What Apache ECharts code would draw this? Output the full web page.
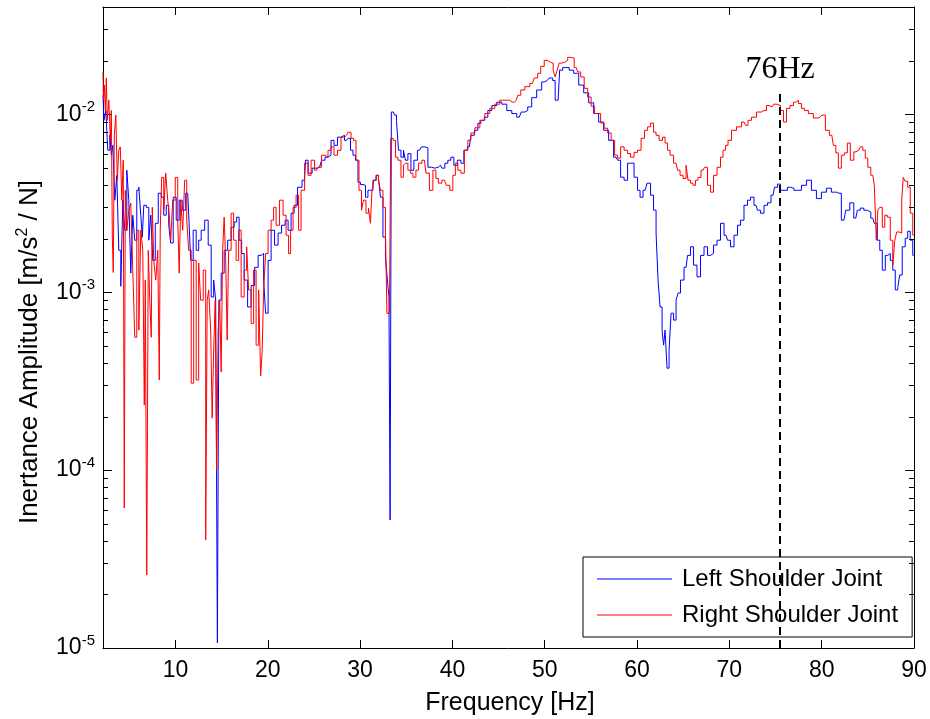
<!DOCTYPE html>
<html><head><meta charset="utf-8">
<script src="https://cdn.jsdelivr.net/npm/echarts@6/dist/echarts.min.js"></script>
<style>html,body{margin:0;padding:0;background:#fff}#c{width:930px;height:719px}</style>
</head><body><div id="c"></div>
<script>
// [frequency Hz, inertance m/s^2/N]
const leftShoulder = [
[2.15,0.0128],[2.35,0.00925],[2.56,0.0105],[2.78,0.00628],[3.00,0.00762],[3.11,0.00589],[3.32,0.00669],[3.54,0.00329],[3.75,0.00454],[3.97,0.00172],
[4.19,0.00108],[4.40,0.00329],[4.62,0.00223],[4.84,0.00485],[5.05,0.00329],[5.27,0.00128],[5.48,0.00271],[5.70,0.00196],[5.92,0.00374],[6.14,0.00389],
[6.35,0.00271],[6.46,0.00204],[6.68,0.00308],[7.00,0.00300],[7.22,0.00196],[7.43,0.00271],[7.65,0.00151],[7.97,0.00244],[8.30,0.00360],[8.62,0.00342],
[8.84,0.00271],[9.16,0.00308],[9.38,0.00238],[9.59,0.00189],[9.92,0.00342],[10.24,0.00254],[10.57,0.00329],[10.89,0.00289],[11.33,0.00360],[11.54,0.00271],
[11.76,0.00151],[12.08,0.00223],[12.41,0.00172],[12.62,0.00196],[12.95,0.00223],[13.38,0.00254],[13.71,0.00184],[14.03,0.00094],[14.25,0.00117],[14.46,0.000902],
[14.62,0.0000107],[14.79,0.000902],[15.11,0.00128],[15.44,0.00172],[15.87,0.00196],[16.19,0.00232],[16.52,0.00248],[16.73,0.00264],[17.06,0.00196],[17.28,0.00165],
[17.60,0.00117],[18.03,0.000826],[18.36,0.00109],[18.79,0.00138],[19.12,0.00161],[19.44,0.00165],[19.66,0.00117],[19.87,0.000762],[20.20,0.00151],[20.52,0.00223],
[20.95,0.00184],[21.28,0.00215],[21.71,0.00238],[22.04,0.00254],[22.36,0.00223],[22.69,0.00278],[23.01,0.00308],[23.44,0.00389],[23.98,0.00426],[24.20,0.00552],
[24.53,0.00467],[25.07,0.00498],[25.61,0.00504],[26.04,0.00552],[26.36,0.00574],[26.69,0.00589],[27.01,0.00714],[27.34,0.00669],[27.77,0.00744],[28.09,0.00762],
[28.53,0.00714],[28.85,0.00733],[29.07,0.00628],[29.39,0.00589],[29.61,0.00552],[29.93,0.00415],[30.15,0.00403],[30.47,0.00399],[30.69,0.00342],[31.01,0.00374],
[31.23,0.00374],[31.56,0.00426],[31.88,0.00454],[32.10,0.00436],[32.31,0.00342],[32.64,0.00204],[32.85,0.00158],[33.07,0.00117],[33.18,0.00094],[33.32,0.0000524],
[33.45,0.0103],[33.61,0.0103],[33.83,0.0099],[34.05,0.00925],[34.26,0.00628],[34.59,0.00574],[34.80,0.00628],[35.02,0.00552],[35.34,0.00601],[35.67,0.00485],
[35.99,0.00552],[36.43,0.00628],[36.86,0.00656],[37.18,0.00648],[37.51,0.00504],[37.94,0.00498],[38.26,0.00504],[38.70,0.00517],[39.02,0.00498],[39.34,0.00531],
[39.67,0.00552],[39.99,0.00574],[40.32,0.00517],[40.75,0.00552],[41.08,0.00531],[41.40,0.00628],[41.84,0.00656],[42.16,0.00762],[42.59,0.00813],[42.92,0.0089],
[43.24,0.00925],[43.67,0.00963],[44.00,0.0105],[44.54,0.0112],[45.08,0.0117],[45.62,0.0114],[46.16,0.0105],[46.70,0.0101],[47.24,0.00963],[47.67,0.0103],
[48.00,0.0105],[48.32,0.0110],[48.86,0.0124],[49.40,0.0137],[49.94,0.0152],[50.27,0.0155],[50.70,0.0160],[51.02,0.0155],[51.24,0.0120],[51.45,0.0120],
[51.78,0.0177],[52.11,0.0183],[52.43,0.0183],[52.86,0.0177],[53.41,0.0170],[53.95,0.0146],[54.49,0.0132],[55.03,0.0116],[55.57,0.0101],[56.11,0.00905],
[56.65,0.00813],[57.19,0.00714],[57.73,0.00574],[58.06,0.00552],[58.38,0.00443],[58.81,0.00426],[59.14,0.00531],[59.46,0.00531],[59.89,0.00443],[60.22,0.00374],
[60.43,0.00342],[60.87,0.00374],[61.30,0.0041],[61.63,0.00351],[61.95,0.00289],[62.17,0.00215],[62.38,0.00117],[62.60,0.000826],[62.82,0.000612],[62.93,0.000504],
[63.14,0.000612],[63.36,0.000374],[63.58,0.000473],[63.79,0.000762],[64.12,0.000697],[64.33,0.000902],[64.55,0.00099],[64.87,0.00117],[65.31,0.00138],[65.63,0.00161],
[65.96,0.0018],[66.28,0.00142],[66.71,0.00122],[67.04,0.00161],[67.47,0.0018],[67.80,0.00161],[68.12,0.00165],[68.45,0.00184],[68.88,0.00196],[69.20,0.00244],
[69.64,0.00209],[69.96,0.00196],[70.29,0.0018],[70.72,0.00209],[71.05,0.00238],[71.37,0.00254],[71.80,0.00308],[72.13,0.00329],[72.45,0.00342],[72.89,0.00308],
[73.21,0.00289],[73.54,0.00278],[73.97,0.00308],[74.29,0.00318],[74.73,0.00351],[75.05,0.00389],[75.37,0.00405],[75.70,0.00374],[76.13,0.00374],[76.45,0.00389],
[76.78,0.00384],[77.21,0.00374],[77.53,0.00374],[78.08,0.00399],[78.62,0.00426],[79.16,0.00374],[79.70,0.00336],[80.24,0.00365],[80.78,0.00384],[81.32,0.00365],
[81.86,0.0036],[82.40,0.00254],[82.83,0.00289],[83.26,0.00318],[83.70,0.00261],[84.02,0.00289],[84.35,0.00297],[84.78,0.00289],[85.10,0.00282],[85.54,0.00261],
[85.86,0.00244],[86.19,0.00196],[86.40,0.00172],[86.73,0.00133],[87.05,0.00161],[87.27,0.00165],[87.59,0.00151],[87.81,0.00133],[88.13,0.00103],[88.35,0.00106],
[88.56,0.00125],[88.89,0.0018],[89.21,0.00201],[89.43,0.0022],[89.76,0.00196],[89.97,0.00161]
];
const rightShoulder = [
[2.15,0.0173],[2.24,0.0120],[2.35,0.0146],[2.46,0.0105],[2.56,0.0160],[2.67,0.00925],[2.89,0.0120],[3.00,0.00714],[3.11,0.0105],[3.21,0.00204],
[3.32,0.00129],[3.43,0.00762],[3.65,0.0099],[3.75,0.00426],[3.97,0.00628],[4.08,0.00656],[4.29,0.00329],[4.40,0.00552],[4.51,0.0000612],[4.62,0.00374],
[4.84,0.00223],[5.05,0.00289],[5.27,0.00316],[5.48,0.00133],[5.70,0.000558],[5.92,0.00223],[6.14,0.000612],[6.35,0.00223],[6.57,0.00172],[6.68,0.000232],
[6.78,0.00117],[7.00,0.0000257],[7.11,0.00172],[7.32,0.000902],[7.43,0.000558],[7.54,0.0030],[7.76,0.00151],[7.97,0.00117],[8.19,0.00172],[8.30,0.000321],
[8.40,0.00223],[8.62,0.00442],[8.84,0.00289],[9.05,0.00467],[9.27,0.00329],[9.38,0.00271],[9.59,0.00196],[9.81,0.00329],[10.14,0.00442],[10.35,0.00254],
[10.46,0.00128],[10.68,0.00329],[10.89,0.00223],[11.11,0.00426],[11.33,0.00254],[11.54,0.00172],[11.87,0.000308],[12.08,0.00151],[12.41,0.000321],[12.62,0.00146],
[12.84,0.000902],[13.17,0.00133],[13.38,0.0000404],[13.49,0.000902],[13.71,0.00103],[13.92,0.000612],[14.03,0.000196],[14.25,0.000473],[14.36,0.000902],[14.57,0.0001],
[14.68,0.000612],[14.90,0.000902],[15.00,0.000356],[15.22,0.00172],[15.33,0.00264],[15.55,0.00151],[15.65,0.000538],[15.87,0.00172],[16.19,0.00278],[16.41,0.00196],
[16.73,0.00151],[16.95,0.00223],[17.28,0.00094],[17.60,0.00133],[17.82,0.0018],[18.03,0.00103],[18.36,0.000668],[18.57,0.00133],[18.90,0.000504],[19.12,0.00103],
[19.33,0.000338],[19.44,0.000454],[19.66,0.00103],[19.87,0.00165],[20.20,0.00223],[20.52,0.00254],[20.74,0.0030],[21.06,0.00238],[21.49,0.00329],[21.82,0.00271],
[22.14,0.00209],[22.36,0.00165],[22.58,0.00223],[22.90,0.0030],[23.23,0.00351],[23.44,0.00223],[23.77,0.00374],[24.20,0.00531],[24.53,0.00454],[24.85,0.00552],
[25.29,0.00485],[25.61,0.00504],[26.04,0.00589],[26.36,0.00574],[26.69,0.00628],[27.01,0.00656],[27.34,0.00589],[27.77,0.00628],[28.09,0.00744],[28.53,0.00762],
[28.85,0.00793],[29.18,0.00733],[29.39,0.00714],[29.72,0.00552],[30.04,0.00374],[30.26,0.00289],[30.47,0.00329],[30.80,0.00278],[31.01,0.00297],[31.23,0.00244],
[31.34,0.00374],[31.66,0.00426],[31.88,0.00454],[32.10,0.00426],[32.31,0.00374],[32.64,0.0030],[32.85,0.00223],[32.96,0.00076],[33.18,0.00076],[33.45,0.00733],
[33.72,0.00714],[33.94,0.00574],[34.26,0.00552],[34.59,0.00443],[34.80,0.00517],[35.02,0.00531],[35.34,0.00485],[35.56,0.00467],[35.89,0.00443],[36.21,0.00485],
[36.43,0.00531],[36.97,0.00552],[37.29,0.00467],[37.72,0.00374],[38.05,0.00485],[38.37,0.00436],[38.59,0.0041],[39.13,0.00426],[39.56,0.00399],[39.88,0.00374],
[40.21,0.00454],[40.43,0.00531],[40.75,0.00485],[41.08,0.00467],[41.51,0.00628],[41.84,0.00714],[42.16,0.00785],[42.70,0.0084],[43.24,0.00925],[43.78,0.0101],
[44.32,0.0108],[44.86,0.0114],[45.40,0.0120],[45.94,0.0120],[46.48,0.0117],[46.92,0.0120],[47.24,0.0128],[47.57,0.0137],[48.11,0.0143],[48.65,0.0149],
[49.08,0.0160],[49.40,0.0170],[49.73,0.0186],[50.16,0.0201],[50.48,0.0196],[50.81,0.0194],[51.02,0.0177],[51.24,0.0162],[51.45,0.0177],[51.67,0.0194],
[51.99,0.0196],[52.32,0.0201],[52.65,0.0209],[52.97,0.0207],[53.41,0.0183],[53.73,0.0173],[54.06,0.0162],[54.49,0.0140],[54.81,0.0125],[55.24,0.0111],
[55.57,0.0101],[55.89,0.0101],[56.22,0.00893],[56.65,0.00835],[56.98,0.00785],[57.41,0.00714],[57.73,0.00589],[58.06,0.00567],[58.38,0.00656],[58.81,0.00628],
[59.14,0.00601],[59.46,0.00574],[59.89,0.00611],[60.22,0.00628],[60.65,0.00733],[60.98,0.00813],[61.30,0.0085],[61.63,0.00893],[61.95,0.00793],[62.17,0.00762],
[62.60,0.00714],[62.93,0.00744],[63.14,0.00689],[63.47,0.00628],[63.68,0.00589],[64.23,0.00531],[64.55,0.00485],[64.77,0.00454],[65.20,0.00436],[65.42,0.00517],
[65.63,0.00426],[65.96,0.0041],[66.17,0.00399],[66.49,0.00426],[66.71,0.00442],[67.15,0.00485],[67.47,0.00504],[67.80,0.00399],[68.12,0.00365],[68.45,0.00454],
[68.88,0.00504],[69.20,0.00574],[69.42,0.00628],[69.75,0.00669],[69.96,0.00714],[70.50,0.00813],[71.05,0.0085],[71.59,0.00905],[71.91,0.00867],[72.13,0.00925],
[72.67,0.00963],[73.21,0.0103],[73.75,0.0105],[74.29,0.0112],[74.62,0.0110],[74.94,0.0114],[75.37,0.0112],[75.70,0.0105],[76.02,0.00905],[76.35,0.0108],
[76.78,0.0112],[77.10,0.0117],[77.32,0.0120],[77.64,0.0115],[77.97,0.0108],[78.29,0.0105],[78.83,0.0101],[79.37,0.00953],[79.81,0.00963],[80.24,0.0099],
[80.56,0.00813],[81.10,0.00762],[81.42,0.00669],[81.64,0.00607],[81.97,0.00498],[82.29,0.00589],[82.62,0.00607],[82.94,0.00689],[83.26,0.00552],[83.70,0.00615],
[84.02,0.00628],[84.35,0.00656],[84.56,0.00628],[84.89,0.00567],[85.10,0.00504],[85.54,0.00454],[85.86,0.00399],[85.97,0.00196],[86.19,0.00289],[86.40,0.0030],
[86.73,0.00232],[86.94,0.00271],[87.27,0.00264],[87.59,0.00196],[87.81,0.00142],[88.02,0.00196],[88.24,0.00218],[88.56,0.00215],[88.78,0.00329],[88.89,0.00442],
[89.21,0.0042],[89.43,0.00389],[89.76,0.00278],[89.97,0.00209]
];
const seriesNames = ['Left Shoulder Joint', 'Right Shoulder Joint'];
const xTickValues = [10, 20, 30, 40, 50, 60, 70, 80, 90];
const yTickValues = [1e-5, 1e-4, 1e-3, 1e-2];
const yMinorTickValues = [2e-5,3e-5,4e-5,5e-5,6e-5,7e-5,8e-5,9e-5,2e-4,3e-4,4e-4,5e-4,6e-4,7e-4,8e-4,9e-4,2e-3,3e-3,4e-3,5e-3,6e-3,7e-3,8e-3,9e-3,2e-2,3e-2,4e-2];
const markerFreq = 75.5;
const markerTop = 0.0135;
const markerText = '76Hz';
const xMin = 2.15, xMax = 90, yMin = 1e-5, yMax = 0.0401;

const SANS = '"Liberation Sans", Arial, Helvetica, sans-serif';
const chart = echarts.init(document.getElementById('c'), null, {renderer: 'canvas'});

const yLabelFmt = v => '{b|10}{s|' + Math.round(Math.log10(v)) + '}';

const option = {
  animation: false,
  backgroundColor: '#fff',
  grid: {left: 103, right: 16, top: 7, bottom: 71, containLabel: false},
  legend: {
    left: 583, top: 557, orient: 'vertical', icon: 'rect',
    backgroundColor: '#fff', borderColor: '#000', borderWidth: 1, borderRadius: 0,
    padding: [10, 14, 10, 14], itemGap: 12, itemWidth: 75, itemHeight: 1,
    textStyle: {fontSize: 24, fontFamily: SANS, color: '#000', padding: [0, 0, 0, 5], lineHeight: 24},
    data: seriesNames
  },
  xAxis: [{
    type: 'value', min: xMin, max: xMax, position: 'bottom',
    axisLine: {show: true, onZero: false, lineStyle: {color: '#000', width: 1}},
    axisTick: {show: true, inside: true, length: 8, customValues: xTickValues, lineStyle: {color: '#000'}},
    axisLabel: {show: true, customValues: xTickValues, fontSize: 23, fontFamily: SANS, color: '#000', margin: 11},
    splitLine: {show: false}
  }, {
    type: 'value', min: xMin, max: xMax, position: 'top',
    axisLine: {show: true, onZero: false, lineStyle: {color: '#000', width: 1}},
    axisTick: {show: true, inside: true, length: 8, customValues: xTickValues, lineStyle: {color: '#000'}},
    axisLabel: {show: false}, splitLine: {show: false}
  }],
  yAxis: [{
    type: 'log', logBase: 10, min: yMin, max: yMax, position: 'left',
    axisLine: {show: true, onZero: false, lineStyle: {color: '#000', width: 1}},
    axisTick: {show: true, inside: true, length: 9, customValues: yTickValues, lineStyle: {color: '#000'}},
    axisLabel: {
      show: true, customValues: yTickValues, margin: 8, formatter: yLabelFmt,
      rich: {
        b: {fontSize: 23, fontFamily: SANS, color: '#000'},
        s: {fontSize: 15, fontFamily: SANS, color: '#000', padding: [0, 0, 14, 0]}
      }
    },
    splitLine: {show: false}, minorTick: {show: false}
  }, {
    type: 'log', logBase: 10, min: yMin, max: yMax, position: 'right',
    axisLine: {show: true, onZero: false, lineStyle: {color: '#000', width: 1}},
    axisTick: {show: true, inside: true, length: 9, customValues: yTickValues, lineStyle: {color: '#000'}},
    axisLabel: {show: false}, splitLine: {show: false}
  }],
  series: [{
    name: seriesNames[0], type: 'line', data: leftShoulder, xAxisIndex: 0, yAxisIndex: 0,
    symbol: 'none', step: 'middle', lineStyle: {color: '#0000ff', width: 1}, itemStyle: {color: '#0000ff'}, z: 2
  }, {
    name: seriesNames[1], type: 'line', data: rightShoulder, xAxisIndex: 0, yAxisIndex: 0,
    symbol: 'none', step: 'middle', lineStyle: {color: '#ff0000', width: 1}, itemStyle: {color: '#ff0000'}, z: 3,
    markLine: {
      silent: true, symbol: ['none', 'none'], animation: false,
      lineStyle: {color: '#000', width: 2, type: [8, 5]},
      label: {show: true, position: 'end', formatter: markerText, fontFamily: '"Liberation Serif", "Times New Roman", serif', fontSize: 32, color: '#000', distance: 6},
      data: [[{coord: [markerFreq, yMin]}, {coord: [markerFreq, markerTop]}]]
    }
  }, {
    type: 'custom', xAxisIndex: 0, yAxisIndex: 0, silent: true, clip: false, z: 5,
    data: yMinorTickValues.map(v => [xMin, v]),
    renderItem: (params, api) => {
      const p = api.coord([api.value(0), api.value(1)]);
      const cs = params.coordSys;
      const y = Math.round(p[1]) + 0.5;
      return {type: 'group', children: [
        {type: 'line', shape: {x1: cs.x, y1: y, x2: cs.x + 5, y2: y}, style: {stroke: '#000', lineWidth: 1}},
        {type: 'line', shape: {x1: cs.x + cs.width - 5, y1: y, x2: cs.x + cs.width, y2: y}, style: {stroke: '#000', lineWidth: 1}}
      ]};
    }
  }],
  graphic: [{
    type: 'text', x: 510, y: 703,
    style: {text: 'Frequency [Hz]', font: '25px ' + SANS, fill: '#000', textAlign: 'center', textVerticalAlign: 'middle'}
  }, {
    type: 'text', x: 30, y: 352, rotation: Math.PI / 2,
    style: {text: 'Inertance Amplitude [m/s{s|2} / N]', font: '26px ' + SANS, fill: '#000', textAlign: 'center', textVerticalAlign: 'middle',
      rich: {s: {fontSize: 16, fontFamily: SANS, fill: '#000', padding: [0, 0, 14, 0]}}}
  }]
};
chart.setOption(option);
</script>
</body></html>
